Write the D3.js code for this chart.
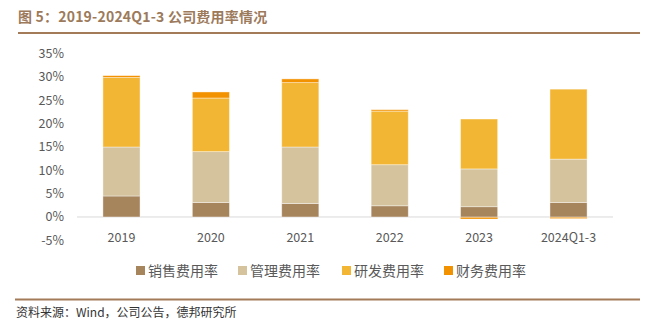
<!DOCTYPE html>
<html><head><meta charset="utf-8">
<script src="https://cdn.jsdelivr.net/npm/d3@7"></script>
<style>body{margin:0;background:#fff}svg{display:block}</style>
</head><body>
<svg id="c" width="655" height="333"></svg>
<script>
const categories = ["2019","2020","2021","2022","2023","2024Q1-3"];
const seriesNames = ["销售费用率","管理费用率","研发费用率","财务费用率"];
const sales   = [4.5, 3.1, 2.9, 2.4, 2.2, 3.1];
const admin   = [10.5, 10.9, 12.1, 8.8, 8.1, 9.3];
const rnd     = [14.9, 11.5, 13.8, 11.5, 10.7, 15.0];
const finance = [0.4, 1.3, 0.8, 0.3, -0.3, -0.2];
const yTicks = [-5,0,5,10,15,20,25,30,35];
const colors = ["#A6845C","#D4C39C","#F3B634","#F39200"];

const svg = d3.select("#c");
const font = "'Noto Sans CJK SC','Noto Sans',sans-serif";

// title
svg.append("text").attr("x",18).attr("y",22).attr("fill","#9C7A5B")
  .attr("font-family",font).attr("font-size",14).attr("font-weight","bold")
  .attr("letter-spacing",0.2)
  .text("图 5：2019-2024Q1-3 公司费用率情况");
svg.append("line").attr("x1",18).attr("x2",640).attr("y1",33).attr("y2",33)
  .attr("stroke","#A47B58").attr("stroke-width",2);

const x = d3.scaleBand().domain(categories).range([77,613]).paddingInner(0.585).paddingOuter(0.29);
const y = d3.scaleLinear().domain([-5,35]).range([240.3,53.7]);

// y axis labels
svg.append("g").selectAll("text").data(yTicks).join("text")
  .attr("x",64).attr("y",d=>y(d)).attr("dy","0.35em").attr("text-anchor","end")
  .attr("fill","#595959").attr("font-family",font).attr("font-size",12.5)
  .text(d=>d+"%");

// zero line
svg.append("line").attr("x1",77).attr("x2",613).attr("y1",y(0)).attr("y2",y(0))
  .attr("stroke","#D9D9D9").attr("stroke-width",1);

// stacks
const all = [sales, admin, rnd, finance];
categories.forEach((c,i)=>{
  let pos = 0, neg = 0;
  all.forEach((s,k)=>{
    const v = s[i];
    let y0, y1;
    if (v >= 0){ y0 = pos; y1 = pos + v; pos = y1; }
    else { y0 = neg + v; y1 = neg; neg = y0; }
    svg.append("rect")
      .attr("x",x(c)).attr("width",x.bandwidth())
      .attr("y",y(y1)+(v<0?0.5:0)).attr("height",Math.max(0,y(y0)-y(y1)))
      .attr("fill",colors[k])
      .attr("stroke",v<0?"none":"#fff").attr("stroke-opacity",0.5).attr("stroke-width",0.8);
  });
});

// x labels
svg.append("g").selectAll("text").data(categories).join("text")
  .attr("x",d=>x(d)+x.bandwidth()/2).attr("y",241.5).attr("text-anchor","middle")
  .attr("fill","#595959").attr("font-family",font).attr("font-size",12.5)
  .text(d=>d);

// legend
const lx = [136,238,342,444];
seriesNames.forEach((n,k)=>{
  svg.append("rect").attr("x",lx[k]).attr("y",266).attr("width",9).attr("height",9).attr("fill",colors[k]);
  svg.append("text").attr("x",lx[k]+12).attr("y",275.5).attr("fill","#595959")
    .attr("font-family",font).attr("font-size",14).text(n);
});

// bottom line and source
svg.append("line").attr("x1",15).attr("x2",640).attr("y1",299.5).attr("y2",299.5)
  .attr("stroke","#A47B58").attr("stroke-width",2);
svg.append("text").attr("x",16).attr("y",317).attr("fill","#333")
  .attr("font-family",font).attr("font-size",12).text("资料来源：Wind，公司公告，德邦研究所");
</script>
</body></html>
